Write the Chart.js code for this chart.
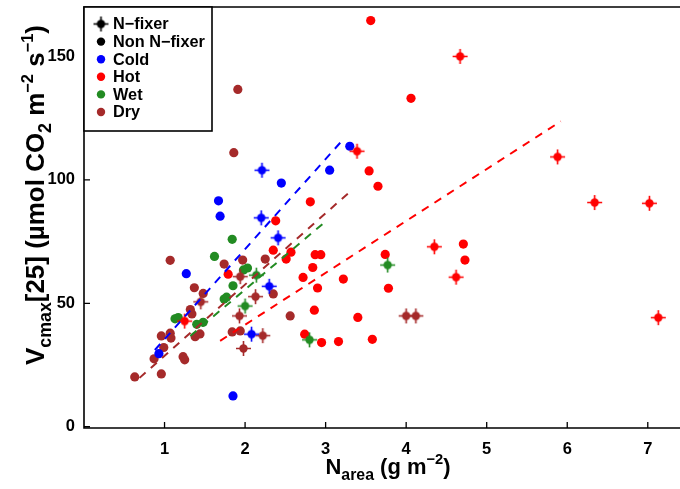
<!DOCTYPE html>
<html><head><meta charset="utf-8">
<script src="https://cdn.jsdelivr.net/npm/chart.js@4.4.0/dist/chart.umd.min.js"></script>
<style>html,body{margin:0;padding:0;background:#fff;overflow:hidden}canvas{display:block}</style>
</head><body>
<canvas id="c" width="680" height="489"></canvas>
<script>
const xTickVals = [1,2,3,4,5,6,7];
const yTickVals = [0,50,100,150];

const coldNonX = [3.30,3.05,2.45,1.67,1.69,1.27,0.93,1.85];
const coldNonY = [113.6,103.9,98.7,91.5,85.3,62.0,29.6,12.5];
const coldFixX = [2.21,2.20,2.41,2.30,2.08];
const coldFixY = [103.9,84.6,76.5,56.9,37.5];

const hotNonX = [3.56,4.06,3.54,3.65,2.81,2.38,2.35,2.51,2.57,2.87,2.94,2.84,2.72,2.90,2.86,3.22,3.40,3.58,3.16,2.95,2.74,1.79,4.71,4.73,3.74,3.78];
const hotNonY = [164.5,133.0,103.6,97.4,91.1,83.4,71.5,67.9,70.7,69.7,69.7,64.5,60.5,56.2,47.2,59.8,44.3,35.4,34.5,34.1,37.5,61.8,74.0,67.5,69.8,56.1];
const hotFixX = [3.39,4.67,5.88,6.34,7.02,4.35,4.62,7.13,1.25];
const hotFixY = [111.6,150.0,109.3,90.8,90.5,72.9,60.6,44.2,42.8];

const wetNonX = [1.62,1.84,1.85,1.74,1.77,1.13,1.17,1.40,1.48,1.98,2.03];
const wetNonY = [69.0,75.9,57.1,51.7,52.5,43.7,44.2,41.5,42.3,63.5,64.3];
const wetFixX = [3.77,2.14,2.00,2.80];
const wetFixY = [65.5,61.4,48.9,35.2];

const dryNonX = [1.91,1.86,1.07,1.37,1.74,1.97,2.25,1.48,1.32,1.34,2.35,2.56,0.96,1.07,1.08,1.38,1.44,1.84,1.94,0.99,0.87,1.23,1.25,0.96,0.63];
const dryNonY = [136.6,111.0,67.4,56.3,65.9,67.5,67.9,54.0,47.5,45.7,53.8,44.9,36.8,37.9,35.9,36.5,37.6,38.4,38.8,32.1,27.5,28.4,27.1,21.4,20.2];
const dryFixX = [1.94,2.13,1.93,2.22,1.98,1.45,4.00,4.12];
const dryFixY = [60.8,52.7,44.9,36.9,31.7,50.6,44.9,44.9];

const coldLineX = [0.88,3.23], coldLineY = [31.1,116.8];
const hotLineX = [1.69,5.92], hotLineY = [34.8,123.7];
const wetLineX = [1.32,2.99], wetLineY = [36.8,82.9];
const dryLineX = [0.69,3.31], dryLineY = [19.8,95.4];

const legendLabels = ['N\u2212fixer','Non N\u2212fixer','Cold','Hot','Wet','Dry'];

const COLORS = {cold:'#0000FF', hot:'#FF0000', wet:'#228B22', dry:'#A52A2A', black:'#000000'};
const FONT = '"Liberation Sans", Arial, Helvetica, sans-serif';

function fixerImg(color){
  const c = document.createElement('canvas'); c.width = 17; c.height = 17;
  const g = c.getContext('2d');
  g.strokeStyle = color; g.lineWidth = 1.6;
  g.beginPath(); g.moveTo(1,8.5); g.lineTo(16,8.5); g.moveTo(8.5,1); g.lineTo(8.5,16); g.stroke();
  g.fillStyle = color; g.beginPath(); g.arc(8.5,8.5,4.2,0,Math.PI*2); g.fill();
  return c;
}
const pts = (xs,ys)=>xs.map((x,i)=>({x:x,y:ys[i]}));

function nonDS(xs,ys,col){return {type:'scatter',data:pts(xs,ys),pointStyle:'circle',pointRadius:4.6,backgroundColor:col,borderWidth:0,showLine:false};}
function fixDS(xs,ys,col){return {type:'scatter',data:pts(xs,ys),pointStyle:fixerImg(col),pointRadius:8,showLine:false};}
function lineDS(xs,ys,col){return {type:'line',data:pts(xs,ys),borderColor:col,borderWidth:2,borderDash:[8,7],pointRadius:0,fill:false,tension:0};}

const datasets = [
  lineDS(coldLineX,coldLineY,COLORS.cold),
  lineDS(hotLineX,hotLineY,COLORS.hot),
  lineDS(wetLineX,wetLineY,COLORS.wet),
  lineDS(dryLineX,dryLineY,COLORS.dry),
  fixDS(coldFixX,coldFixY,COLORS.cold),
  fixDS(hotFixX,hotFixY,COLORS.hot),
  fixDS(wetFixX,wetFixY,COLORS.wet),
  fixDS(dryFixX,dryFixY,COLORS.dry),
  nonDS(coldNonX,coldNonY,COLORS.cold),
  nonDS(hotNonX,hotNonY,COLORS.hot),
  nonDS(wetNonX,wetNonY,COLORS.wet),
  nonDS(dryNonX,dryNonY,COLORS.dry)
];

function drawRich(ctx, parts, x, y, target){
  let total = 0;
  parts.forEach(p=>{ctx.font = 'bold '+p[1]+'px '+FONT; total += ctx.measureText(p[0]).width;});
  const k = target/total;
  let cx = x - target/2;
  parts.forEach(p=>{ctx.font = 'bold '+(p[1]*k).toFixed(2)+'px '+FONT; ctx.fillText(p[0], cx, y + p[2]*k); cx += ctx.measureText(p[0]).width;});
}

const decor = {
  id:'decor',
  afterDatasetsDraw(chart){
    const ctx = chart.ctx, a = chart.chartArea;
    const xs = chart.scales.x, ys = chart.scales.y;
    ctx.save();
    ctx.strokeStyle = '#000'; ctx.lineWidth = 1.6;
    ctx.beginPath();
    ctx.moveTo(a.right+2, a.top); ctx.lineTo(a.left, a.top); ctx.lineTo(a.left, a.bottom); ctx.lineTo(a.right+2, a.bottom);
    ctx.stroke();
    ctx.lineWidth = 1.3;
    ctx.beginPath();
    xTickVals.forEach(v=>{const px = xs.getPixelForValue(v); ctx.moveTo(px, a.bottom); ctx.lineTo(px, a.bottom-6);});
    yTickVals.forEach(v=>{const py = ys.getPixelForValue(v); ctx.moveTo(a.left, py); ctx.lineTo(a.left+6, py);});
    ctx.stroke();
    const bx = a.left, by = a.top, bw = 128, bh = 124;
    ctx.fillStyle = '#fff'; ctx.fillRect(bx, by, bw, bh);
    ctx.lineWidth = 1.6; ctx.strokeRect(bx, by, bw, bh);
    const legendColors = [COLORS.black, COLORS.black, COLORS.cold, COLORS.hot, COLORS.wet, COLORS.dry];
    ctx.textBaseline = 'middle'; ctx.textAlign = 'left';
    legendLabels.forEach((lab,i)=>{
      const ly = by + 17 + i*17.6;
      const mx = bx + 17;
      if(i===0){ ctx.drawImage(fixerImg('#000'), mx-8.5, ly-8.5); }
      else { ctx.fillStyle = legendColors[i]; ctx.beginPath(); ctx.arc(mx, ly, 4.2, 0, Math.PI*2); ctx.fill(); }
      ctx.fillStyle = '#000'; ctx.font = 'bold 16.3px '+FONT;
      ctx.fillText(lab, bx + 29, ly + 1);
    });
    ctx.fillStyle = '#000'; ctx.textBaseline = 'alphabetic'; ctx.textAlign = 'left';
    drawRich(ctx, [['N',18,0],['area',13,5],[' (g m',18,0],['\u22122',12,-8],[')',18,0]], 388, 474, 125);
    ctx.save();
    ctx.translate(44, 195); ctx.rotate(-Math.PI/2);
    drawRich(ctx, [['V',19,0],['cmax',13,5],['[25] (\u00b5mol CO',19,0],['2',13,5],[' m',19,0],['\u22122',12,-8],[' s',19,0],['\u22121',12,-8],[')',19,0]], 0, 0, 340);
    ctx.restore();
    ctx.restore();
  }
};

new Chart(document.getElementById('c'), {
  type:'scatter',
  data:{datasets:datasets},
  options:{
    responsive:false, animation:false,
    layout:{autoPadding:false, padding:{top:7,right:0,bottom:0,left:0}},
    plugins:{legend:{display:false}, tooltip:{enabled:false}},
    scales:{
      x:{type:'linear', min:0, max:7.4,
        afterBuildTicks:s=>{s.ticks = xTickVals.map(v=>({value:v}));},
        afterFit:s=>{s.height = 61; s.paddingLeft = 0; s.paddingRight = 0;},
        grid:{display:false, drawTicks:false, tickLength:0}, border:{display:false},
        ticks:{color:'#000', padding:12, maxRotation:0, autoSkip:false, font:{family:FONT, size:16.5, weight:'bold'}}},
      y:{type:'linear', min:-0.5, max:170,
        afterBuildTicks:s=>{s.ticks = yTickVals.map(v=>({value:v}));},
        afterFit:s=>{s.width = 84; s.paddingTop = 0; s.paddingBottom = 0;},
        grid:{display:false, drawTicks:false, tickLength:0}, border:{display:false},
        ticks:{color:'#000', padding:9, font:{family:FONT, size:16.5, weight:'bold'}}}
    }
  },
  plugins:[decor]
});
</script>
</body></html>
